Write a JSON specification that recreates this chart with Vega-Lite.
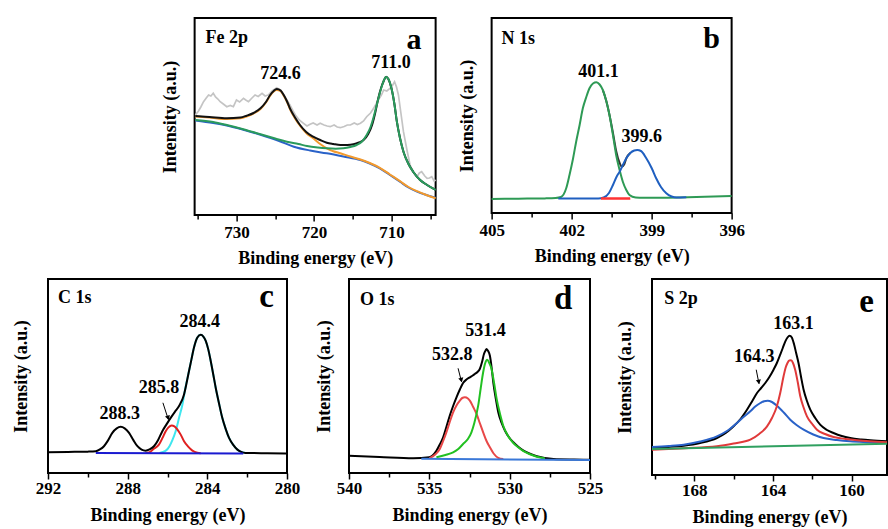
{
 "$schema": "https://vega.github.io/schema/vega-lite/v6.json",
 "padding": {"left": 11, "top": 17, "right": 0, "bottom": 0},
 "background": "white",
 "config": {
  "font": "Liberation Serif",
  "view": {"stroke": "black", "strokeWidth": 2},
  "axis": {"labelFont": "Liberation Serif", "labelFontWeight": "bold", "labelFontSize": 17, "labelColor": "black", "titleFont": "Liberation Serif", "titleFontWeight": "bold", "titleFontSize": 18, "titleColor": "black", "grid": false, "domain": false, "tickColor": "black", "tickWidth": 1.5, "labelFlush": false, "labelOverlap": false, "labelPadding": 3, "titlePadding": 8},
  "axisX": {"titleFont": "Liberation Serif", "labelFont": "Liberation Serif"},
  "axisY": {"titleFont": "Liberation Serif"},
  "line": {"strokeWidth": 2, "interpolate": "monotone"},
  "text": {"font": "Liberation Serif", "fontWeight": "bold", "color": "black", "baseline": "alphabetic", "align": "center"}
 },
 "datasets": {
  "a": [
   {"s":"g","e":735.3,"y":100},{"s":"g","e":734.9,"y":104},{"s":"g","e":734.6,"y":108},{"s":"g","e":734.25,"y":113.3},{"s":"g","e":733.9,"y":117},{"s":"g","e":733.6,"y":120},{"s":"g","e":733.3,"y":119},{"s":"g","e":733.0,"y":121.7},{"s":"g","e":732.7,"y":118},{"s":"g","e":732.4,"y":116},{"s":"g","e":732.1,"y":113.3},{"s":"g","e":731.7,"y":111},{"s":"g","e":731.25,"y":108.3},{"s":"g","e":730.8,"y":109.5},{"s":"g","e":730.4,"y":108.3},{"s":"g","e":730.0,"y":115},{"s":"g","e":729.6,"y":113},{"s":"g","e":729.1,"y":116.7},{"s":"g","e":728.8,"y":115},{"s":"g","e":728.45,"y":113.3},{"s":"g","e":728.0,"y":117},{"s":"g","e":727.6,"y":120},{"s":"g","e":727.2,"y":118.5},{"s":"g","e":726.7,"y":121.7},{"s":"g","e":726.3,"y":119},{"s":"g","e":725.9,"y":120},{"s":"g","e":725.4,"y":124},{"s":"g","e":724.8,"y":127.3},{"s":"g","e":724.3,"y":125},{"s":"g","e":723.9,"y":120},{"s":"g","e":723.5,"y":115},{"s":"g","e":723.1,"y":110},{"s":"g","e":722.7,"y":104},{"s":"g","e":722.4,"y":100},{"s":"g","e":721.9,"y":95},{"s":"g","e":721.35,"y":91.7},{"s":"g","e":720.9,"y":89},{"s":"g","e":720.5,"y":90.7},{"s":"g","e":720.1,"y":92},{"s":"g","e":719.6,"y":90},{"s":"g","e":719.2,"y":91.7},{"s":"g","e":718.7,"y":90},{"s":"g","e":718.3,"y":89},{"s":"g","e":717.9,"y":88.3},{"s":"g","e":717.4,"y":90},{"s":"g","e":717.0,"y":88},{"s":"g","e":716.6,"y":87.3},{"s":"g","e":716.1,"y":88.5},{"s":"g","e":715.7,"y":90},{"s":"g","e":715.3,"y":90},{"s":"g","e":714.8,"y":92},{"s":"g","e":714.4,"y":90.5},{"s":"g","e":714.0,"y":91.7},{"s":"g","e":713.6,"y":94},{"s":"g","e":713.2,"y":98.3},{"s":"g","e":712.7,"y":102},{"s":"g","e":712.3,"y":106.7},{"s":"g","e":711.7,"y":115},{"s":"g","e":711.3,"y":120},{"s":"g","e":711.0,"y":125},{"s":"g","e":710.6,"y":124},{"s":"g","e":710.2,"y":126.7},{"s":"g","e":709.9,"y":129},{"s":"g","e":709.6,"y":133.3},{"s":"g","e":709.35,"y":128},{"s":"g","e":709.1,"y":120},{"s":"g","e":708.8,"y":103},{"s":"g","e":708.45,"y":83.3},{"s":"g","e":708.0,"y":65},{"s":"g","e":707.6,"y":50},{"s":"g","e":707.2,"y":43},{"s":"g","e":706.7,"y":38.3},{"s":"g","e":706.4,"y":42},{"s":"g","e":706.1,"y":43.3},{"s":"g","e":705.7,"y":39},{"s":"g","e":705.4,"y":36.7},{"s":"g","e":705.1,"y":37},{"s":"g","e":704.8,"y":38.3},{"s":"g","e":704.5,"y":34},{"s":"g","e":704.3,"y":35},
   {"s":"k","e":735.3,"y":99},{"s":"k","e":733.5,"y":98},{"s":"k","e":731.25,"y":96.7},{"s":"k","e":729.5,"y":97.5},{"s":"k","e":728.7,"y":99.3},{"s":"k","e":727.8,"y":102},{"s":"k","e":726.9,"y":106.7},{"s":"k","e":726.2,"y":113},{"s":"k","e":725.65,"y":120},{"s":"k","e":725.2,"y":124},{"s":"k","e":724.8,"y":126},{"s":"k","e":724.3,"y":124.5},{"s":"k","e":723.9,"y":120},{"s":"k","e":723.5,"y":114},{"s":"k","e":723.1,"y":106.7},{"s":"k","e":722.4,"y":97},{"s":"k","e":721.8,"y":90},{"s":"k","e":721.0,"y":83},{"s":"k","e":720.1,"y":78.3},{"s":"k","e":719.2,"y":75},{"s":"k","e":718.35,"y":72.3},{"s":"k","e":717.5,"y":71},{"s":"k","e":716.6,"y":70},{"s":"k","e":715.7,"y":70},{"s":"k","e":714.9,"y":70.7},{"s":"k","e":714.2,"y":72.5},{"s":"k","e":713.6,"y":75},{"s":"k","e":713.0,"y":81},{"s":"k","e":712.5,"y":90},{"s":"k","e":712.1,"y":102},{"s":"k","e":711.7,"y":116.7},{"s":"k","e":711.3,"y":128},{"s":"k","e":711.0,"y":134},{"s":"k","e":710.7,"y":138.3},{"s":"k","e":710.4,"y":136},{"s":"k","e":710.0,"y":126.7},{"s":"k","e":709.6,"y":110},{"s":"k","e":709.3,"y":93.3},{"s":"k","e":708.9,"y":77},{"s":"k","e":708.45,"y":63.3},{"s":"k","e":707.8,"y":51},{"s":"k","e":707.2,"y":43.3},{"s":"k","e":706.3,"y":35},{"s":"k","e":705.4,"y":30},{"s":"k","e":704.3,"y":25},
   {"s":"o","e":735.3,"y":98.5},{"s":"o","e":733.5,"y":97.5},{"s":"o","e":731.25,"y":96},{"s":"o","e":729.5,"y":96.8},{"s":"o","e":728.7,"y":98.5},{"s":"o","e":727.8,"y":101.5},{"s":"o","e":726.9,"y":106},{"s":"o","e":726.2,"y":112.5},{"s":"o","e":725.65,"y":119.3},{"s":"o","e":725.2,"y":123.5},{"s":"o","e":724.8,"y":125},{"s":"o","e":724.3,"y":123.8},{"s":"o","e":723.9,"y":119.3},{"s":"o","e":723.5,"y":113.5},{"s":"o","e":723.1,"y":106},{"s":"o","e":722.4,"y":96},{"s":"o","e":721.8,"y":89.3},{"s":"o","e":721.0,"y":82},{"s":"o","e":720.1,"y":76.7},{"s":"o","e":719.2,"y":71},{"s":"o","e":718.35,"y":66.7},{"s":"o","e":717.5,"y":63.8},{"s":"o","e":716.6,"y":61.7},{"s":"o","e":715.3,"y":58.5},{"s":"o","e":714.0,"y":55.5},{"s":"o","e":712.8,"y":52},{"s":"o","e":711.5,"y":47.2},{"s":"o","e":710.2,"y":40.5},{"s":"o","e":708.9,"y":33.8},{"s":"o","e":707.8,"y":28},{"s":"o","e":706.7,"y":23.8},{"s":"o","e":705.5,"y":20},{"s":"o","e":704.3,"y":16.7},
   {"s":"gr","e":735.3,"y":95},{"s":"gr","e":733.0,"y":93},{"s":"gr","e":731.25,"y":90},{"s":"gr","e":729.0,"y":85.5},{"s":"gr","e":726.9,"y":80.7},{"s":"gr","e":725.0,"y":76.5},{"s":"gr","e":723.5,"y":73.3},{"s":"gr","e":722.0,"y":71},{"s":"gr","e":720.9,"y":69},{"s":"gr","e":719.5,"y":67.5},{"s":"gr","e":718.35,"y":66.7},{"s":"gr","e":717.2,"y":66.3},{"s":"gr","e":716.2,"y":66.7},{"s":"gr","e":715.3,"y":68},{"s":"gr","e":714.5,"y":70},{"s":"gr","e":713.8,"y":73.5},{"s":"gr","e":713.2,"y":80},{"s":"gr","e":712.7,"y":88},{"s":"gr","e":712.3,"y":98},{"s":"gr","e":711.9,"y":110},{"s":"gr","e":711.5,"y":122},{"s":"gr","e":711.1,"y":132},{"s":"gr","e":710.7,"y":138},{"s":"gr","e":710.4,"y":136},{"s":"gr","e":710.0,"y":126.7},{"s":"gr","e":709.6,"y":110},{"s":"gr","e":709.3,"y":93.3},{"s":"gr","e":708.9,"y":77},{"s":"gr","e":708.45,"y":63.3},{"s":"gr","e":707.8,"y":51},{"s":"gr","e":707.2,"y":43.3},{"s":"gr","e":706.3,"y":35},{"s":"gr","e":705.4,"y":30},{"s":"gr","e":704.3,"y":25},
   {"s":"b","e":735.3,"y":94.5},{"s":"b","e":733.0,"y":92},{"s":"b","e":731.25,"y":89.5},{"s":"b","e":729.0,"y":85},{"s":"b","e":726.9,"y":80.2},{"s":"b","e":724.5,"y":74},{"s":"b","e":722.6,"y":68.3},{"s":"b","e":720.5,"y":64.5},{"s":"b","e":718.35,"y":61.7},{"s":"b","e":716.2,"y":58.5},{"s":"b","e":714.0,"y":55},{"s":"b","e":712.8,"y":51.5},{"s":"b","e":711.5,"y":46.7},{"s":"b","e":710.2,"y":40},{"s":"b","e":708.9,"y":33.3},{"s":"b","e":707.8,"y":27.5},{"s":"b","e":706.7,"y":23.3},{"s":"b","e":705.5,"y":20},{"s":"b","e":704.3,"y":17.3},
   {"k":"p","t":"724.6","e":724.32,"y":136},
   {"k":"p","t":"711.0","e":710.06,"y":146.7},
   {"k":"n","t":"Fe 2p","e":734.0,"y":171.7},
   {"k":"l","t":"a","e":707.1,"y":165.7}
  ],
  "b": [
   {"s":"k","e":400.83,"y":123},{"s":"k","e":400.7,"y":112},{"s":"k","e":400.58,"y":98},{"s":"k","e":400.45,"y":80},{"s":"k","e":400.33,"y":62},{"s":"k","e":400.2,"y":50},{"s":"k","e":400.12,"y":46.3},{"s":"k","e":400.03,"y":48.5},{"s":"k","e":399.95,"y":54.7},{"s":"k","e":399.8,"y":60},
   {"s":"gr","e":405,"y":14},{"s":"gr","e":404,"y":14.3},{"s":"gr","e":403,"y":14.6},{"s":"gr","e":402.6,"y":15},{"s":"gr","e":402.4,"y":16},{"s":"gr","e":402.2,"y":25},{"s":"gr","e":402.08,"y":38},{"s":"gr","e":401.95,"y":54},{"s":"gr","e":401.83,"y":71.3},{"s":"gr","e":401.7,"y":88},{"s":"gr","e":401.58,"y":104.7},{"s":"gr","e":401.45,"y":116},{"s":"gr","e":401.33,"y":124.7},{"s":"gr","e":401.2,"y":129.5},{"s":"gr","e":401.07,"y":130.7},{"s":"gr","e":400.95,"y":128.5},{"s":"gr","e":400.83,"y":123},{"s":"gr","e":400.7,"y":112},{"s":"gr","e":400.58,"y":98},{"s":"gr","e":400.45,"y":78},{"s":"gr","e":400.33,"y":58},{"s":"gr","e":400.2,"y":43},{"s":"gr","e":400.08,"y":31.3},{"s":"gr","e":399.95,"y":23},{"s":"gr","e":399.83,"y":18},{"s":"gr","e":399.6,"y":15.5},{"s":"gr","e":399.3,"y":15.2},{"s":"gr","e":398,"y":15.6},{"s":"gr","e":397,"y":16.2},{"s":"gr","e":396,"y":17},
   {"s":"b","e":402.5,"y":14.6},{"s":"b","e":401,"y":14.6},{"s":"b","e":400.8,"y":15.5},{"s":"b","e":400.6,"y":20},{"s":"b","e":400.45,"y":28},{"s":"b","e":400.3,"y":37},{"s":"b","e":400.2,"y":41.3},{"s":"b","e":400.08,"y":48},{"s":"b","e":399.95,"y":54.7},{"s":"b","e":399.8,"y":60},{"s":"b","e":399.65,"y":62.5},{"s":"b","e":399.54,"y":63},{"s":"b","e":399.4,"y":62},{"s":"b","e":399.2,"y":54.7},{"s":"b","e":399.0,"y":45},{"s":"b","e":398.83,"y":34.7},{"s":"b","e":398.65,"y":26},{"s":"b","e":398.45,"y":19.7},{"s":"b","e":398.25,"y":16.5},{"s":"b","e":398.07,"y":15.5},{"s":"b","e":397.7,"y":15.7},
   {"s":"r","e":400.9,"y":14.4},{"s":"r","e":400.4,"y":14.4},{"s":"r","e":399.8,"y":14.6},
   {"k":"p","t":"401.1","e":400.99,"y":136.3},
   {"k":"p","t":"399.6","e":399.375,"y":71.3},
   {"k":"n","t":"N 1s","e":404.63,"y":168.7},
   {"k":"l","t":"b","e":396.75,"y":164.7}
  ],
  "c": [
   {"s":"c","e":286.4,"y":20},{"s":"c","e":286.1,"y":22},{"s":"c","e":285.9,"y":26.7},{"s":"c","e":285.75,"y":33},{"s":"c","e":285.59,"y":41.7},{"s":"c","e":285.42,"y":55},{"s":"c","e":285.25,"y":68.3},{"s":"c","e":285.1,"y":85},{"s":"c","e":284.92,"y":101.7},{"s":"c","e":284.8,"y":113},{"s":"c","e":284.67,"y":125},{"s":"c","e":284.5,"y":135},{"s":"c","e":284.33,"y":137.7},{"s":"c","e":284.2,"y":136},{"s":"c","e":284.08,"y":131.7},{"s":"c","e":283.95,"y":123},{"s":"c","e":283.83,"y":111.7},{"s":"c","e":283.7,"y":98},{"s":"c","e":283.58,"y":85},{"s":"c","e":283.42,"y":70},{"s":"c","e":283.25,"y":55},{"s":"c","e":283.08,"y":44},{"s":"c","e":282.91,"y":35},{"s":"c","e":282.7,"y":28},{"s":"c","e":282.49,"y":23.3},{"s":"c","e":282.3,"y":21},{"s":"c","e":282.08,"y":20},
   {"s":"r","e":287.1,"y":20},{"s":"r","e":286.93,"y":20.5},{"s":"r","e":286.7,"y":24},{"s":"r","e":286.43,"y":28.3},{"s":"r","e":286.25,"y":35},{"s":"r","e":286.09,"y":41.7},{"s":"r","e":285.95,"y":45.5},{"s":"r","e":285.79,"y":47.3},{"s":"r","e":285.65,"y":46.5},{"s":"r","e":285.5,"y":43.3},{"s":"r","e":285.33,"y":38},{"s":"r","e":285.17,"y":31.7},{"s":"r","e":284.95,"y":26},{"s":"r","e":284.75,"y":22.3},{"s":"r","e":284.5,"y":20.2},{"s":"r","e":284.33,"y":19.8},
   {"s":"k","e":292,"y":20.7},{"s":"k","e":291,"y":21},{"s":"k","e":290,"y":21.3},{"s":"k","e":289.6,"y":21.7},{"s":"k","e":289.4,"y":23.5},{"s":"k","e":289.19,"y":26.7},{"s":"k","e":289.0,"y":32},{"s":"k","e":288.77,"y":40},{"s":"k","e":288.55,"y":44.5},{"s":"k","e":288.35,"y":46},{"s":"k","e":288.15,"y":44.5},{"s":"k","e":287.93,"y":40},{"s":"k","e":287.72,"y":33},{"s":"k","e":287.51,"y":26.7},{"s":"k","e":287.3,"y":23.3},{"s":"k","e":287.1,"y":22.3},{"s":"k","e":286.9,"y":23.5},{"s":"k","e":286.68,"y":26.7},{"s":"k","e":286.47,"y":33},{"s":"k","e":286.26,"y":41.7},{"s":"k","e":286.05,"y":48.5},{"s":"k","e":285.84,"y":55},{"s":"k","e":285.63,"y":61},{"s":"k","e":285.42,"y":66.7},{"s":"k","e":285.17,"y":78.3},{"s":"k","e":285.05,"y":89},{"s":"k","e":284.92,"y":101.7},{"s":"k","e":284.8,"y":113},{"s":"k","e":284.67,"y":125},{"s":"k","e":284.5,"y":135},{"s":"k","e":284.33,"y":137.7},{"s":"k","e":284.2,"y":136},{"s":"k","e":284.08,"y":131.7},{"s":"k","e":283.95,"y":123},{"s":"k","e":283.83,"y":111.7},{"s":"k","e":283.7,"y":98},{"s":"k","e":283.58,"y":85},{"s":"k","e":283.42,"y":70},{"s":"k","e":283.25,"y":55},{"s":"k","e":283.08,"y":44},{"s":"k","e":282.91,"y":35},{"s":"k","e":282.7,"y":28},{"s":"k","e":282.49,"y":23.3},{"s":"k","e":282.3,"y":21},{"s":"k","e":282.08,"y":20},{"s":"k","e":281,"y":19.7},{"s":"k","e":280,"y":19.5},
   {"s":"b","e":289.6,"y":20},{"s":"b","e":282.2,"y":19.4},
   {"k":"p","t":"284.4","e":284.38,"y":145.7},
   {"k":"p","t":"285.8","e":286.43,"y":80},
   {"k":"p","t":"288.3","e":288.4,"y":54},
   {"k":"n","t":"C 1s","e":291.5,"y":169},
   {"k":"l","t":"c","e":281.02,"y":165},
   {"k":"a","e":286.23,"y":70,"e2":285.96,"y2":53.4},
   {"k":"h","e":285.97,"y":55}
  ],
  "d": [
   {"s":"k","e":540,"y":17.3},{"s":"k","e":538.1,"y":16},{"s":"k","e":536,"y":14.7},{"s":"k","e":535,"y":15.7},{"s":"k","e":534.8,"y":17.5},{"s":"k","e":534.56,"y":22.3},{"s":"k","e":534.35,"y":28.5},{"s":"k","e":534.14,"y":35.7},{"s":"k","e":533.94,"y":46},{"s":"k","e":533.73,"y":57.3},{"s":"k","e":533.52,"y":67},{"s":"k","e":533.31,"y":75.7},{"s":"k","e":533.1,"y":83.5},{"s":"k","e":532.9,"y":90},{"s":"k","e":532.69,"y":93.5},{"s":"k","e":532.48,"y":95.7},{"s":"k","e":532.3,"y":97.5},{"s":"k","e":532.17,"y":99},{"s":"k","e":532.0,"y":101},{"s":"k","e":531.86,"y":104},{"s":"k","e":531.72,"y":111},{"s":"k","e":531.6,"y":119},{"s":"k","e":531.5,"y":122.5},{"s":"k","e":531.44,"y":124},{"s":"k","e":531.34,"y":122},{"s":"k","e":531.23,"y":117.3},{"s":"k","e":531.12,"y":105},{"s":"k","e":531.02,"y":90.7},{"s":"k","e":530.86,"y":74},{"s":"k","e":530.71,"y":60.7},{"s":"k","e":530.5,"y":50},{"s":"k","e":530.29,"y":42.3},{"s":"k","e":530.03,"y":35.5},{"s":"k","e":529.77,"y":30.7},{"s":"k","e":529.45,"y":26},{"s":"k","e":529.14,"y":22.3},{"s":"k","e":528.7,"y":19},{"s":"k","e":528.31,"y":16.7},{"s":"k","e":527.27,"y":14},{"s":"k","e":526,"y":13.5},{"s":"k","e":525,"y":13.3},
   {"s":"r","e":535,"y":14.7},{"s":"r","e":534.6,"y":19},{"s":"r","e":534.35,"y":24},{"s":"r","e":534.14,"y":32},{"s":"r","e":533.94,"y":40.7},{"s":"r","e":533.73,"y":51},{"s":"r","e":533.52,"y":60.7},{"s":"r","e":533.31,"y":67.5},{"s":"r","e":533.1,"y":72.3},{"s":"r","e":532.95,"y":75},{"s":"r","e":532.79,"y":75.7},{"s":"r","e":532.6,"y":74.5},{"s":"r","e":532.48,"y":72.3},{"s":"r","e":532.27,"y":66},{"s":"r","e":532.06,"y":59},{"s":"r","e":531.86,"y":50},{"s":"r","e":531.65,"y":40.7},{"s":"r","e":531.44,"y":32},{"s":"r","e":531.23,"y":25.7},{"s":"r","e":531.0,"y":19.5},{"s":"r","e":530.71,"y":15.2},{"s":"r","e":530.4,"y":14},
   {"s":"gr","e":534.56,"y":15.7},{"s":"gr","e":534.0,"y":18},{"s":"gr","e":533.52,"y":20.7},{"s":"gr","e":533.2,"y":24},{"s":"gr","e":532.9,"y":29},{"s":"gr","e":532.6,"y":34},{"s":"gr","e":532.38,"y":40.7},{"s":"gr","e":532.2,"y":50},{"s":"gr","e":531.96,"y":67.3},{"s":"gr","e":531.8,"y":85},{"s":"gr","e":531.65,"y":100.7},{"s":"gr","e":531.52,"y":110},{"s":"gr","e":531.4,"y":113.3},{"s":"gr","e":531.27,"y":110},{"s":"gr","e":531.13,"y":104},{"s":"gr","e":530.97,"y":90},{"s":"gr","e":530.81,"y":74},{"s":"gr","e":530.6,"y":59},{"s":"gr","e":530.4,"y":47.3},{"s":"gr","e":530.1,"y":37},{"s":"gr","e":529.77,"y":30},{"s":"gr","e":529.45,"y":25.5},{"s":"gr","e":529.14,"y":21.8},{"s":"gr","e":528.7,"y":18.5},{"s":"gr","e":528.31,"y":16.2},{"s":"gr","e":527.8,"y":14.5},
   {"s":"b","e":535.5,"y":14.2},{"s":"b","e":525,"y":13},
   {"k":"p","t":"531.4","e":531.5,"y":136.7},
   {"k":"p","t":"532.8","e":533.58,"y":113.4},
   {"k":"n","t":"O 1s","e":539.31,"y":168},
   {"k":"l","t":"d","e":526.67,"y":164},
   {"k":"a","e":533.21,"y":104.7,"e2":533.0,"y2":91.4},
   {"k":"h","e":533.01,"y":93}
  ],
  "e": [
   {"s":"k","e":170.15,"y":27},{"s":"k","e":169.3,"y":28},{"s":"k","e":168.54,"y":29.3},{"s":"k","e":167.7,"y":32},{"s":"k","e":166.85,"y":37},{"s":"k","e":166.4,"y":42},{"s":"k","e":166.0,"y":48.7},{"s":"k","e":165.65,"y":56},{"s":"k","e":165.32,"y":65.3},{"s":"k","e":165.05,"y":74},{"s":"k","e":164.81,"y":82},{"s":"k","e":164.6,"y":87},{"s":"k","e":164.39,"y":92},{"s":"k","e":164.18,"y":98},{"s":"k","e":163.97,"y":105.3},{"s":"k","e":163.8,"y":112},{"s":"k","e":163.63,"y":120.3},{"s":"k","e":163.5,"y":127},{"s":"k","e":163.37,"y":133.7},{"s":"k","e":163.26,"y":137.5},{"s":"k","e":163.15,"y":139.3},{"s":"k","e":163.04,"y":137.5},{"s":"k","e":162.93,"y":131},{"s":"k","e":162.82,"y":122},{"s":"k","e":162.7,"y":112},{"s":"k","e":162.57,"y":98},{"s":"k","e":162.44,"y":85.3},{"s":"k","e":162.27,"y":74},{"s":"k","e":162.1,"y":65.3},{"s":"k","e":161.85,"y":57},{"s":"k","e":161.6,"y":50.3},{"s":"k","e":161.25,"y":45},{"s":"k","e":160.92,"y":42},{"s":"k","e":160.5,"y":39},{"s":"k","e":160.07,"y":37},{"s":"k","e":159.5,"y":35.5},{"s":"k","e":159.05,"y":34.7},{"s":"k","e":158.2,"y":33.7},
   {"s":"b","e":170.15,"y":28},{"s":"b","e":169.3,"y":29},{"s":"b","e":168.54,"y":30.3},{"s":"b","e":167.7,"y":33.5},{"s":"b","e":166.85,"y":38.7},{"s":"b","e":166.3,"y":44.5},{"s":"b","e":165.83,"y":52},{"s":"b","e":165.5,"y":58},{"s":"b","e":165.15,"y":63.7},{"s":"b","e":164.9,"y":68.5},{"s":"b","e":164.64,"y":72},{"s":"b","e":164.45,"y":73.8},{"s":"b","e":164.27,"y":74.3},{"s":"b","e":164.05,"y":73},{"s":"b","e":163.8,"y":69.3},{"s":"b","e":163.45,"y":62.5},{"s":"b","e":163.12,"y":55.3},{"s":"b","e":162.8,"y":50},{"s":"b","e":162.44,"y":45.3},{"s":"b","e":161.95,"y":40.5},{"s":"b","e":161.43,"y":37},{"s":"b","e":160.75,"y":35},{"s":"b","e":160.07,"y":33.7},{"s":"b","e":159.1,"y":32.8},{"s":"b","e":158.2,"y":32},
   {"s":"r","e":170.15,"y":25.3},{"s":"r","e":168.5,"y":26.8},{"s":"r","e":166.85,"y":28.7},{"s":"r","e":166.0,"y":31.5},{"s":"r","e":165.15,"y":35.3},{"s":"r","e":164.7,"y":41},{"s":"r","e":164.3,"y":48.7},{"s":"r","e":164.05,"y":57},{"s":"r","e":163.8,"y":68.7},{"s":"r","e":163.63,"y":82},{"s":"r","e":163.46,"y":98.7},{"s":"r","e":163.36,"y":107},{"s":"r","e":163.26,"y":112},{"s":"r","e":163.17,"y":114.5},{"s":"r","e":163.08,"y":114.7},{"s":"r","e":162.98,"y":112},{"s":"r","e":162.87,"y":105.3},{"s":"r","e":162.74,"y":93},{"s":"r","e":162.61,"y":78.7},{"s":"r","e":162.45,"y":68},{"s":"r","e":162.27,"y":58.7},{"s":"r","e":162.0,"y":51},{"s":"r","e":161.76,"y":45.3},{"s":"r","e":161.35,"y":41},{"s":"r","e":160.92,"y":38},{"s":"r","e":160.3,"y":36},{"s":"r","e":159.73,"y":34.7},{"s":"r","e":158.2,"y":32.7},
   {"s":"gr","e":170.15,"y":26},{"s":"gr","e":158.2,"y":31.3},
   {"k":"p","t":"163.1","e":162.96,"y":146},
   {"k":"p","t":"164.3","e":164.95,"y":112.7},
   {"k":"n","t":"S 2p","e":169.53,"y":171.3},
   {"k":"l","t":"e","e":159.24,"y":162.7},
   {"k":"a","e":164.85,"y":105.3,"e2":164.71,"y2":91.3},
   {"k":"h","e":164.72,"y":93}
  ]
 },
 "vconcat": [
  {
   "hconcat": [
    {
     "width": 241, "height": 197,
     "data": {"name": "a"},
     "encoding": {
      "x": {"field": "e", "type": "quantitative", "scale": {"domain": [735.4, 704.3], "nice": false, "zero": false}, "axis": {"title": "Binding energy (eV)", "values": [735, 730, 725, 720, 715, 710, 705], "labelExpr": "datum.value % 10 == 0 ? format(datum.value, 'd') : ''", "tickSize": {"condition": {"test": "datum.value % 10 == 0", "value": 6}, "value": 4}, "labelPadding": 3, "titlePadding": 9}},
      "y": {"field": "y", "type": "quantitative", "scale": {"domain": [0, 197], "nice": false}, "axis": {"title": "Intensity (a.u.)", "labels": false, "ticks": false, "titlePadding": 15}}
     },
     "layer": [
      {"transform": [{"filter": "datum.s == 'g'"}], "mark": {"type": "line", "color": "#c4c4c4", "interpolate": "linear", "strokeWidth": 1.7}},
      {"transform": [{"filter": "datum.s == 'b'"}], "mark": {"type": "line", "color": "#2a62c8"}},
      {"transform": [{"filter": "datum.s == 'o'"}], "mark": {"type": "line", "color": "#f39a2d"}},
      {"transform": [{"filter": "datum.s == 'k'"}], "mark": {"type": "line", "color": "#111111"}},
      {"transform": [{"filter": "datum.s == 'gr'"}], "mark": {"type": "line", "color": "#2a9a5c"}},
      {"transform": [{"filter": "datum.k == 'p'"}], "mark": {"type": "text", "fontSize": 18}, "encoding": {"text": {"field": "t"}}},
      {"transform": [{"filter": "datum.k == 'n'"}], "mark": {"type": "text", "fontSize": 18, "align": "left"}, "encoding": {"text": {"field": "t"}}},
      {"transform": [{"filter": "datum.k == 'l'"}], "mark": {"type": "text", "fontSize": 30}, "encoding": {"text": {"field": "t"}}}
     ]
    },
    {
     "width": 240, "height": 195,
     "data": {"name": "b"},
     "encoding": {
      "x": {"field": "e", "type": "quantitative", "scale": {"domain": [405, 396], "nice": false, "zero": false}, "axis": {"title": "Binding energy (eV)", "values": [405, 403.5, 402, 400.5, 399, 397.5, 396], "labelExpr": "datum.value % 3 == 0 ? format(datum.value, 'd') : ''", "tickSize": {"condition": {"test": "datum.value % 3 == 0", "value": 6}, "value": 4}, "labelPadding": 3, "titlePadding": 9}},
      "y": {"field": "y", "type": "quantitative", "scale": {"domain": [0, 195], "nice": false}, "axis": {"title": "Intensity (a.u.)", "labels": false, "ticks": false, "titlePadding": 15}}
     },
     "layer": [
      {"transform": [{"filter": "datum.s == 'k'"}], "mark": {"type": "line", "color": "#333333"}},
      {"transform": [{"filter": "datum.s == 'gr'"}], "mark": {"type": "line", "color": "#2e9a55"}},
      {"transform": [{"filter": "datum.s == 'b'"}], "mark": {"type": "line", "color": "#1f5fc0"}},
      {"transform": [{"filter": "datum.s == 'r'"}], "mark": {"type": "line", "color": "#ff3333", "strokeWidth": 2.5}},
      {"transform": [{"filter": "datum.k == 'p'"}], "mark": {"type": "text", "fontSize": 18}, "encoding": {"text": {"field": "t"}}},
      {"transform": [{"filter": "datum.k == 'n'"}], "mark": {"type": "text", "fontSize": 18, "align": "left"}, "encoding": {"text": {"field": "t"}}},
      {"transform": [{"filter": "datum.k == 'l'"}], "mark": {"type": "text", "fontSize": 30}, "encoding": {"text": {"field": "t"}}}
     ]
    }
   ],
   "spacing": 56,
   "bounds": "flush"
  },
  {
   "hconcat": [
    {
     "width": 239, "height": 194,
     "data": {"name": "c"},
     "encoding": {
      "x": {"field": "e", "type": "quantitative", "scale": {"domain": [292, 280], "nice": false, "zero": false}, "axis": {"title": "Binding energy (eV)", "values": [292, 290, 288, 286, 284, 282, 280], "labelExpr": "datum.value % 4 == 0 ? format(datum.value, 'd') : ''", "tickSize": {"condition": {"test": "datum.value % 4 == 0", "value": 6}, "value": 4}, "labelPadding": 1, "titlePadding": 10}},
      "y": {"field": "y", "type": "quantitative", "scale": {"domain": [0, 193.4], "nice": false}, "axis": {"title": "Intensity (a.u.)", "labels": false, "ticks": false, "titlePadding": 18}}
     },
     "layer": [
      {"transform": [{"filter": "datum.s == 'c'"}], "mark": {"type": "line", "color": "#3fe6ee"}},
      {"transform": [{"filter": "datum.s == 'r'"}], "mark": {"type": "line", "color": "#e02020"}},
      {"transform": [{"filter": "datum.s == 'k'"}], "mark": {"type": "line", "color": "#000000"}},
      {"transform": [{"filter": "datum.s == 'b'"}], "mark": {"type": "line", "color": "#1a1ad0", "interpolate": "linear"}},
      {"transform": [{"filter": "datum.k == 'a'"}], "mark": {"type": "rule", "color": "black", "strokeWidth": 1}, "encoding": {"x2": {"field": "e2"}, "y2": {"field": "y2"}}},
      {"transform": [{"filter": "datum.k == 'h'"}], "mark": {"type": "point", "shape": "triangle-down", "filled": true, "color": "black", "size": 26, "opacity": 1, "angle": 342}},
      {"transform": [{"filter": "datum.k == 'p'"}], "mark": {"type": "text", "fontSize": 18}, "encoding": {"text": {"field": "t"}}},
      {"transform": [{"filter": "datum.k == 'n'"}], "mark": {"type": "text", "fontSize": 18, "align": "left"}, "encoding": {"text": {"field": "t"}}},
      {"transform": [{"filter": "datum.k == 'l'"}], "mark": {"type": "text", "fontSize": 33}, "encoding": {"text": {"field": "t"}}}
     ]
    },
    {
     "width": 241, "height": 194,
     "data": {"name": "d"},
     "encoding": {
      "x": {"field": "e", "type": "quantitative", "scale": {"domain": [540, 525], "nice": false, "zero": false}, "axis": {"title": "Binding energy (eV)", "values": [540, 537.5, 535, 532.5, 530, 527.5, 525], "labelExpr": "datum.value % 5 == 0 ? format(datum.value, 'd') : ''", "tickSize": {"condition": {"test": "datum.value % 5 == 0", "value": 6}, "value": 4}, "labelPadding": 1, "titlePadding": 10}},
      "y": {"field": "y", "type": "quantitative", "scale": {"domain": [0, 194], "nice": false}, "axis": {"title": "Intensity (a.u.)", "labels": false, "ticks": false, "titlePadding": 16}}
     },
     "layer": [
      {"transform": [{"filter": "datum.s == 'k'"}], "mark": {"type": "line", "color": "#000000"}},
      {"transform": [{"filter": "datum.s == 'r'"}], "mark": {"type": "line", "color": "#e84848"}},
      {"transform": [{"filter": "datum.s == 'gr'"}], "mark": {"type": "line", "color": "#22c022"}},
      {"transform": [{"filter": "datum.s == 'b'"}], "mark": {"type": "line", "color": "#3a78d8", "interpolate": "linear"}},
      {"transform": [{"filter": "datum.k == 'a'"}], "mark": {"type": "rule", "color": "black", "strokeWidth": 1}, "encoding": {"x2": {"field": "e2"}, "y2": {"field": "y2"}}},
      {"transform": [{"filter": "datum.k == 'h'"}], "mark": {"type": "point", "shape": "triangle-down", "filled": true, "color": "black", "size": 26, "opacity": 1, "angle": 346}},
      {"transform": [{"filter": "datum.k == 'p'"}], "mark": {"type": "text", "fontSize": 18}, "encoding": {"text": {"field": "t"}}},
      {"transform": [{"filter": "datum.k == 'n'"}], "mark": {"type": "text", "fontSize": 18, "align": "left"}, "encoding": {"text": {"field": "t"}}},
      {"transform": [{"filter": "datum.k == 'l'"}], "mark": {"type": "text", "fontSize": 33}, "encoding": {"text": {"field": "t"}}}
     ]
    },
    {
     "width": 235, "height": 196,
     "data": {"name": "e"},
     "encoding": {
      "x": {"field": "e", "type": "quantitative", "scale": {"domain": [170.15, 158.2], "nice": false, "zero": false}, "axis": {"title": "Binding energy (eV)", "values": [170, 168, 166, 164, 162, 160], "labelExpr": "datum.value % 4 == 0 ? format(datum.value, 'd') : ''", "tickSize": {"condition": {"test": "datum.value % 4 == 0", "value": 6}, "value": 4}, "labelPadding": 1, "titlePadding": 10}},
      "y": {"field": "y", "type": "quantitative", "scale": {"domain": [0, 196], "nice": false}, "axis": {"title": "Intensity (a.u.)", "labels": false, "ticks": false, "titlePadding": 18}}
     },
     "layer": [
      {"transform": [{"filter": "datum.s == 'k'"}], "mark": {"type": "line", "color": "#000000"}},
      {"transform": [{"filter": "datum.s == 'b'"}], "mark": {"type": "line", "color": "#2a62c8"}},
      {"transform": [{"filter": "datum.s == 'r'"}], "mark": {"type": "line", "color": "#e03a3a"}},
      {"transform": [{"filter": "datum.s == 'gr'"}], "mark": {"type": "line", "color": "#30a060", "interpolate": "linear"}},
      {"transform": [{"filter": "datum.k == 'a'"}], "mark": {"type": "rule", "color": "black", "strokeWidth": 1}, "encoding": {"x2": {"field": "e2"}, "y2": {"field": "y2"}}},
      {"transform": [{"filter": "datum.k == 'h'"}], "mark": {"type": "point", "shape": "triangle-down", "filled": true, "color": "black", "size": 26, "opacity": 1, "angle": 349}},
      {"transform": [{"filter": "datum.k == 'p'"}], "mark": {"type": "text", "fontSize": 18}, "encoding": {"text": {"field": "t"}}},
      {"transform": [{"filter": "datum.k == 'n'"}], "mark": {"type": "text", "fontSize": 18, "align": "left"}, "encoding": {"text": {"field": "t"}}},
      {"transform": [{"filter": "datum.k == 'l'"}], "mark": {"type": "text", "fontSize": 33}, "encoding": {"text": {"field": "t"}}}
     ]
    }
   ],
   "spacing": 62,
   "bounds": "flush"
  }
 ],
 "spacing": 10,
 "center": true
}
